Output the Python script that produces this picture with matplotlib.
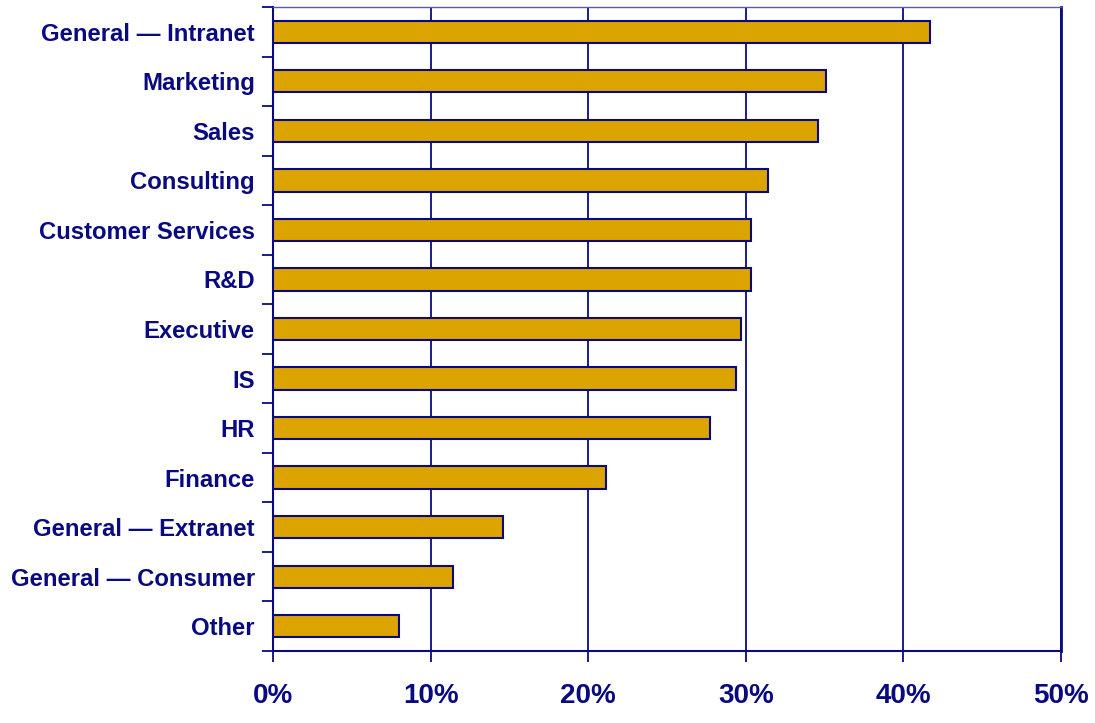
import numpy as np
import matplotlib.pyplot as plt
from matplotlib.ticker import FixedLocator

categories = ["General \u2014 Intranet", "Marketing", "Sales", "Consulting",
              "Customer Services", "R&D", "Executive", "IS", "HR", "Finance",
              "General \u2014 Extranet", "General \u2014 Consumer", "Other"]
values = [41.7, 35.1, 34.6, 31.4, 30.3, 30.3, 29.7, 29.4, 27.7, 21.1, 14.6, 11.4, 8.0]
xticks = [0, 10, 20, 30, 40, 50]

navy = "#0a0a80"
gold = "#dba400"

plt.rcParams['font.family'] = ['Liberation Sans', 'DejaVu Sans']

fig = plt.figure(figsize=(10.95, 7.23), dpi=100)
ax = fig.add_axes([273/1095, 72/723, (1061-273)/1095, (651-7)/723])

y = np.arange(len(categories))[::-1]
ax.barh(y, values, height=0.45, color=gold, edgecolor=navy, linewidth=1.5, zorder=3)

ax.set_xlim(0, 50)
ax.set_ylim(-0.5, len(categories) - 0.5)
ax.set_xticks(xticks)
ax.set_xticklabels([f"{t}%" for t in xticks], fontsize=20, fontweight='bold', color=navy)
ax.set_yticks(y)
ax.set_yticklabels(categories, fontsize=17.2, fontweight='bold', color=navy)
ax.yaxis.set_minor_locator(FixedLocator(np.arange(len(categories) + 1) - 0.5))
ax.tick_params(axis='y', which='major', length=0, pad=13)
ax.tick_params(axis='y', which='minor', length=8, width=1.3, color=navy)
ax.tick_params(axis='x', length=8, width=1.3, color=navy, pad=15)

ax.grid(axis='x', color=navy, linewidth=1.3, zorder=0)
for side in ['left', 'bottom']:
    ax.spines[side].set_color(navy)
    ax.spines[side].set_linewidth(1.5)
ax.spines['top'].set_color("#5a5aa8")
ax.spines['top'].set_linewidth(1.0)
ax.spines['right'].set_color(navy)
ax.spines['right'].set_linewidth(2.0)

fig.savefig("out.png", dpi=100)
